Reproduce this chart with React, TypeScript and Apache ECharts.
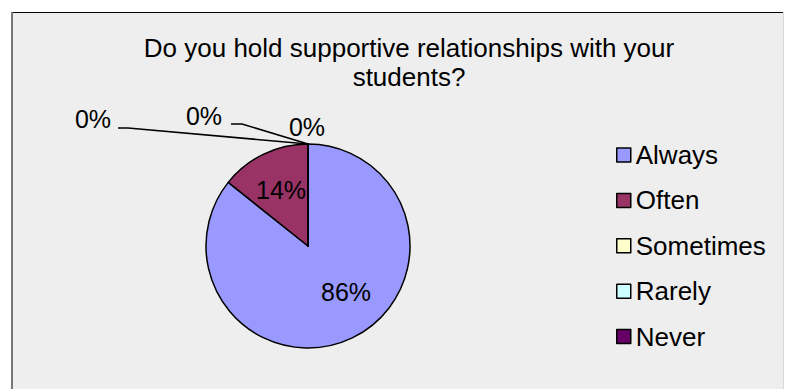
import React, { useEffect, useRef } from "react";
import * as echarts from "echarts";

const categories = ["Always", "Often", "Sometimes", "Rarely", "Never"];
const values = [6, 1, 0, 0, 0];
const colors = ["#9999ff", "#993366", "#ffffcc", "#ccffff", "#660066"];
const titleText = "Do you hold supportive relationships with your\nstudents?";

const CX = 308;
const CY = 246;
const R = 102;

export default function App() {
  const ref = useRef<HTMLDivElement>(null);
  useEffect(() => {
    if (!ref.current) return;
    const chart = echarts.init(ref.current, undefined, { renderer: "svg" });
    const font = "'Liberation Sans', Arial, sans-serif";
    const labelPos: Record<number, any> = {
      0: { x: CX + 38, y: CY + 46 },
      1: { x: CX - 27, y: CY - 56 },
      2: { x: CX - 215, y: CY - 127, line: [[CX, CY - R], [CX - 180, CY - 118], [CX - 190, CY - 118]] },
      3: { x: CX - 104, y: CY - 130, line: [[CX, CY - R], [CX - 66, CY - 122], [CX - 77, CY - 122]] },
      4: { x: CX - 1, y: CY - 119 },
    };
    chart.setOption({
      animation: false,
      backgroundColor: "#ffffff",
      graphic: [
        { type: "rect", shape: { x: 12, y: 12, width: 771, height: 390 }, style: { fill: "#eeeeee" }, z: -10, silent: true },
        { type: "line", shape: { x1: 12, y1: 12.5, x2: 783, y2: 12.5 }, style: { stroke: "#000", lineWidth: 1 }, z: -9 },
        { type: "line", shape: { x1: 12, y1: 12, x2: 12, y2: 400 }, style: { stroke: "#777", lineWidth: 2 }, z: -9 },
        { type: "line", shape: { x1: 783.5, y1: 12, x2: 783.5, y2: 400 }, style: { stroke: "#d8d8d8", lineWidth: 1 }, z: -9 },
      ],
      title: {
        text: titleText,
        left: 404,
        textAlign: "center",
        top: 28,
        textStyle: { fontFamily: font, fontSize: 26, fontWeight: "normal", color: "#000", lineHeight: 29.5 },
      },
      legend: {
        orient: "vertical",
        left: 611,
        top: 137,
        itemWidth: 14,
        itemHeight: 14,
        itemGap: 19.4,
        icon: "rect",
        data: categories,
        textStyle: { fontFamily: font, fontSize: 26, color: "#000", lineHeight: 26, padding: [0, 0, 0, 0] },
        itemStyle: { borderColor: "#000", borderWidth: 1.5 },
      },
      series: [
        {
          type: "pie",
          center: [CX, CY],
          radius: R,
          startAngle: 90,
          clockwise: true,
          avoidLabelOverlap: false,
          minShowLabelAngle: 0,
          itemStyle: { borderColor: "#000", borderWidth: 1.5 },
          label: {
            show: true,
            position: "outside",
            fontFamily: font,
            fontSize: 25,
            color: "#000",
            formatter: (p: any) => Math.round(p.percent) + "%",
          },
          labelLine: { show: true, lineStyle: { color: "#000", width: 1.5 } },
          labelLayout: (params: any) => {
            const lp = labelPos[params.dataIndex];
            const res: any = { x: lp.x, y: lp.y, align: "center", verticalAlign: "middle" };
            if (lp.line) res.labelLinePoints = lp.line;
            return res;
          },
          data: categories.map((name, i) => ({
            name,
            value: values[i],
            itemStyle: { color: colors[i] },
            label: i < 2 ? { position: "inside" } : {},
            labelLine: { show: i === 2 || i === 3 },
          })),
        },
      ],
    });
    return () => chart.dispose();
  }, []);
  return (
    <div
      ref={ref}
      style={{ position: "absolute", left: 0, top: 0, width: 785, height: 389 }}
    />
  );
}
